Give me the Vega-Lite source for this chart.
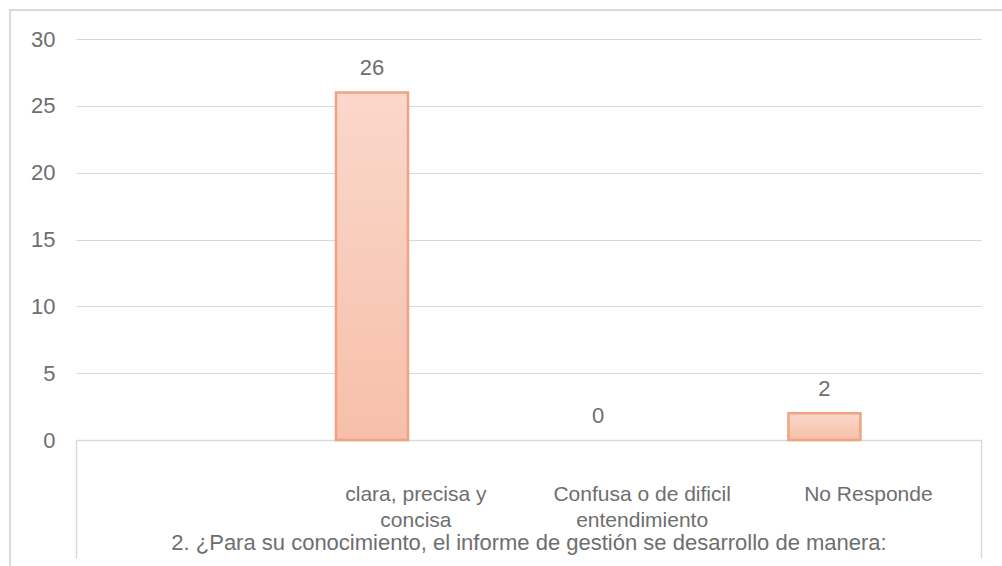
{
  "$schema": "https://vega.github.io/schema/vega-lite/v6.json",
  "width": 992,
  "height": 556,
  "autosize": {"type": "none"},
  "padding": {"left": 10, "top": 10, "right": 0, "bottom": 0},
  "background": "white",
  "config": {
    "view": {"stroke": "#D9D9D9", "strokeWidth": 2, "strokeDash": [1548, 1548], "strokeDashOffset": 556},
    "font": "Liberation Sans"
  },
  "data": {
    "values": [
      {"respuesta": "clara, precisa  y concisa", "serie": "Serie 1", "cantidad": 26},
      {"respuesta": "Confusa o de dificil entendimiento", "serie": "Serie 1", "cantidad": 0},
      {"respuesta": "No Responde", "serie": "Serie 1", "cantidad": 2}
    ]
  },
  "encoding": {
    "x": {
      "field": "respuesta",
      "type": "nominal",
      "sort": null,
      "scale": {
        "domain": ["", "clara, precisa  y concisa", "Confusa o de dificil entendimiento", "No Responde"],
        "range": [66, 971],
        "paddingInner": 0,
        "paddingOuter": 0
      },
      "axis": {
        "title": "2. ¿Para su conocimiento, el informe de gestión se desarrollo de manera:",
        "offset": -126,
        "grid": false,
        "domain": true,
        "domainColor": "#D9D9D9",
        "domainWidth": 1.5,
        "ticks": true,
        "tickBand": "extent",
        "tickSize": 118,
        "tickColor": "#D9D9D9",
        "tickWidth": 1.5,
        "tickOpacity": {"condition": {"test": "datum.value === 'No Responde' || datum.index < 0 || datum.extra", "value": 1}, "value": 0},
        "labelAngle": 0,
        "labelFontSize": 21,
        "labelColor": "#6E6E6E",
        "labelPadding": -75,
        "labelLineHeight": 26,
        "labelLimit": 400,
        "labelExpr": "datum.value === 'clara, precisa  y concisa' ? ['clara, precisa  y', 'concisa'] : datum.value === 'Confusa o de dificil entendimiento' ? ['Confusa o de dificil', 'entendimiento'] : datum.label",
        "titleFontSize": 22,
        "titleFontWeight": "normal",
        "titleColor": "#6E6E6E",
        "titleBaseline": "top",
        "titleY": 92
      }
    },
    "xOffset": {
      "field": "serie",
      "type": "nominal",
      "scale": {"domain": ["Serie 1", "Serie 2"], "paddingInner": 0, "paddingOuter": 0.571, "align": 0.41}
    },
    "y": {
      "field": "cantidad",
      "type": "quantitative",
      "scale": {"domain": [0, 30], "range": [430, 29], "nice": false, "zero": true},
      "axis": {
        "title": null,
        "values": [0, 5, 10, 15, 20, 25, 30],
        "offset": -66,
        "domain": false,
        "ticks": false,
        "grid": true,
        "gridColor": "#D9D9D9",
        "gridWidth": 1.2,
        "labelFontSize": 22,
        "labelColor": "#6E6E6E",
        "labelPadding": 21
      }
    }
  },
  "layer": [
    {
      "transform": [{"filter": "datum.cantidad > 0"}],
      "mark": {
        "type": "bar",
        "color": {
          "gradient": "linear",
          "x1": 0, "y1": 0, "x2": 0, "y2": 1,
          "stops": [
            {"offset": 0, "color": "#FAD8CB"},
            {"offset": 1, "color": "#F7BFA9"}
          ]
        },
        "stroke": "#F0A383",
        "strokeWidth": 2.5
      }
    },
    {
      "mark": {
        "type": "text",
        "fontSize": 22,
        "color": "#6E6E6E",
        "baseline": "alphabetic",
        "dy": -17
      },
      "encoding": {"text": {"field": "cantidad", "type": "quantitative"}}
    }
  ]
}
